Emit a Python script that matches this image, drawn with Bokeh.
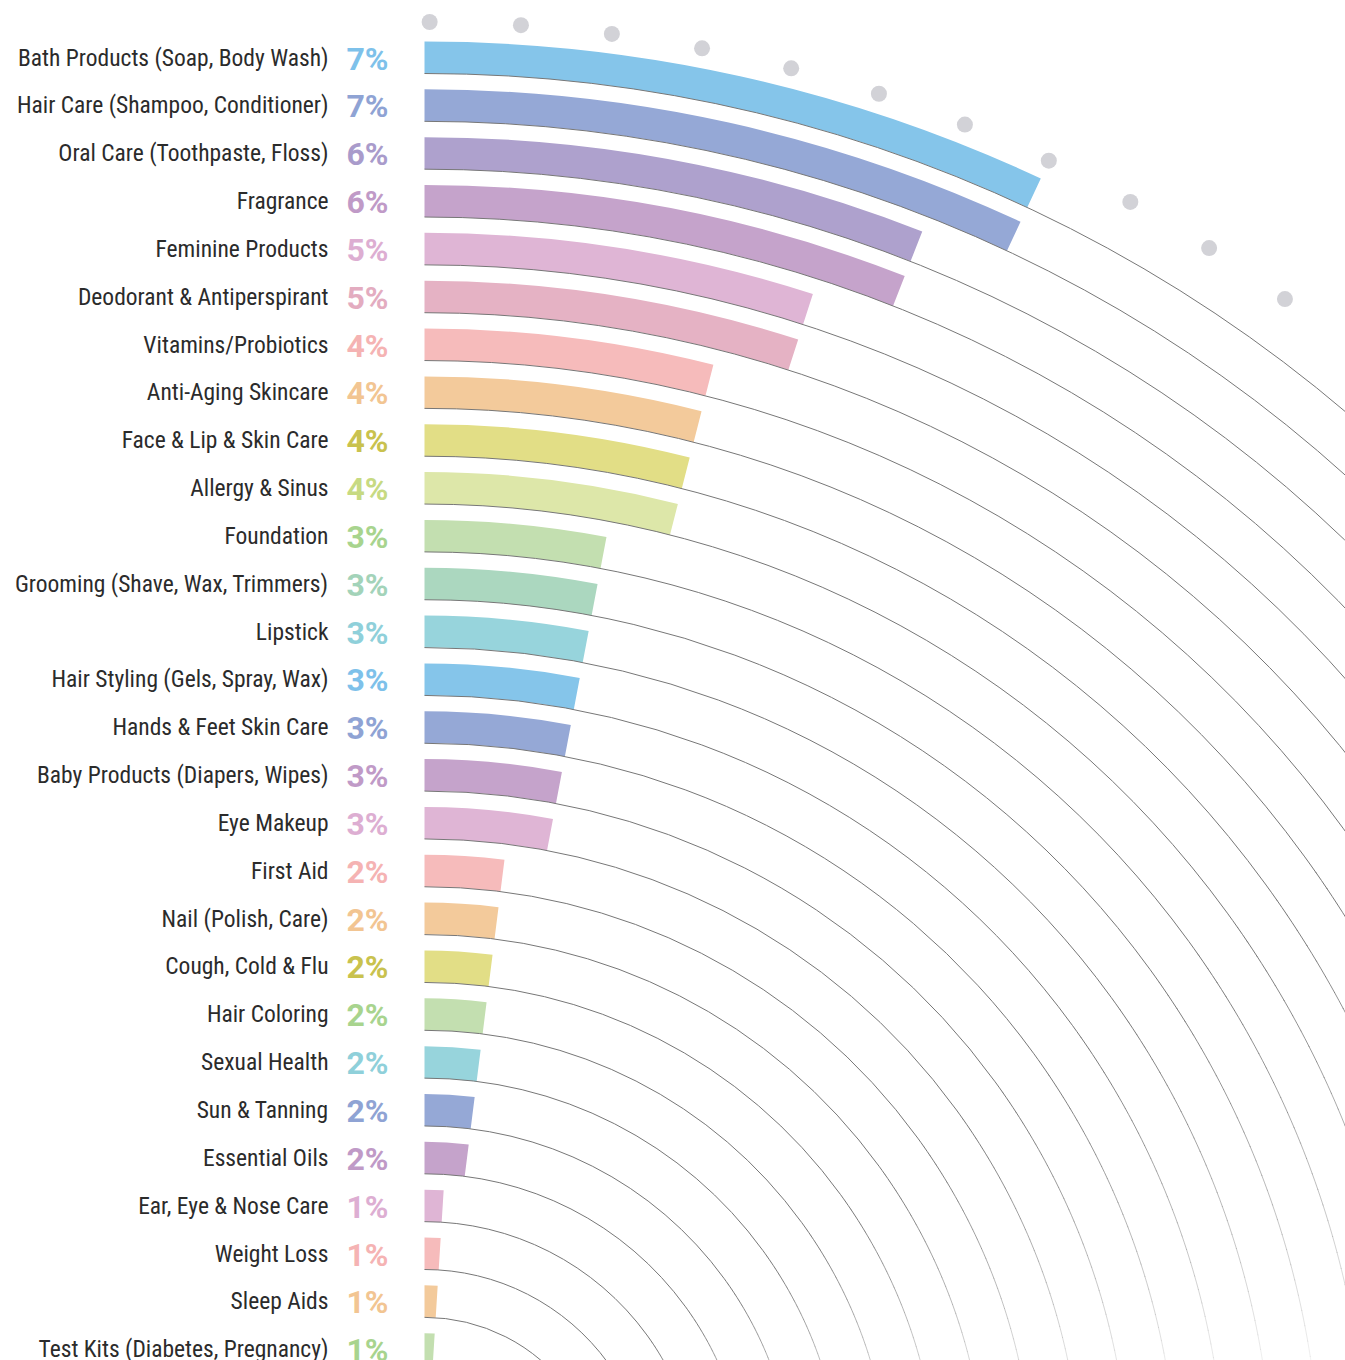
import numpy as np
from bokeh.plotting import figure
from bokeh.models import Range1d
from bokeh.core.properties import value
from bokeh.embed import file_html
from bokeh.resources import INLINE

categories = [
    "Bath Products (Soap, Body Wash)", "Hair Care (Shampoo, Conditioner)",
    "Oral Care (Toothpaste, Floss)", "Fragrance", "Feminine Products",
    "Deodorant & Antiperspirant", "Vitamins/Probiotics", "Anti-Aging Skincare",
    "Face & Lip & Skin Care", "Allergy & Sinus", "Foundation",
    "Grooming (Shave, Wax, Trimmers)", "Lipstick", "Hair Styling (Gels, Spray, Wax)",
    "Hands & Feet Skin Care", "Baby Products (Diapers, Wipes)", "Eye Makeup",
    "First Aid", "Nail (Polish, Care)", "Cough, Cold & Flu", "Hair Coloring",
    "Sexual Health", "Sun & Tanning", "Essential Oils", "Ear, Eye & Nose Care",
    "Weight Loss", "Sleep Aids", "Test Kits (Diabetes, Pregnancy)",
]
values = [7, 7, 6, 6, 5, 5, 4, 4, 4, 4, 3, 3, 3, 3, 3, 3, 3,
          2, 2, 2, 2, 2, 2, 2, 1, 1, 1, 1]
bar_colors = [
    "#85c5ea", "#95a8d6", "#aea1cd", "#c5a3cb", "#dfb5d5", "#e5b2c4", "#f6bbbb",
    "#f3ca9b", "#e2de86", "#dde7a9", "#c3dfb0", "#abd7bf", "#97d4dc", "#85c5ea",
    "#95a8d6", "#c5a3cb", "#dfb5d5", "#f6bbbb", "#f3ca9b", "#e2de86", "#c3dfb0",
    "#97d4dc", "#95a8d6", "#c5a3cb", "#dfb5d5", "#f6bbbb", "#f3ca9b", "#c3dfb0",
]
label_colors = [
    "#7ec1ea", "#8fa3d4", "#a99bcb", "#c09ac7", "#ddaed2", "#e3acc0", "#f5b3b3",
    "#f2c592", "#c9c24e", "#c7da82", "#a8d48e", "#a3d3b9", "#8fd0da", "#7ec1ea",
    "#8fa3d4", "#c09ac7", "#ddaed2", "#f5b3b3", "#f2c592", "#c9c24e", "#a8d48e",
    "#8fd0da", "#8fa3d4", "#c09ac7", "#ddaed2", "#f5b3b3", "#f2c592", "#a8d48e",
]
tick_values = list(range(0, 11))

W, H = 1345, 1360
p = figure(width=W, height=H, output_backend="svg", toolbar_location=None,
           x_range=Range1d(0, W), y_range=Range1d(0, H), min_border=0)
p.axis.visible = False
p.grid.visible = False
p.outline_line_color = None
p.background_fill_color = "white"

cx, cy = 424.0, H - 1496.0
deg_per_unit = 3.58
n = len(categories)
row_step = 47.84
r_outer = np.array([1455 - row_step * i for i in range(n)])
r_inner = r_outer - 32
r_mid = (r_outer + r_inner) / 2

# bars
ends = 90 - np.array(values) * deg_per_unit
p.annular_wedge(x=cx, y=cy, inner_radius=r_inner, outer_radius=r_outer,
                start_angle=np.radians(ends), end_angle=np.radians(90.0),
                fill_color=bar_colors, line_color=None)

# thin guide arcs along inner edge, fading near the end
xs, ys, rs, sa, ea, al = [], [], [], [], [], []
for i in range(n):
    xs.append(cx); ys.append(cy); rs.append(r_inner[i])
    sa.append(np.radians(90 - 54)); ea.append(np.radians(90)); al.append(1.0)
    for t in range(54, 90):
        mid = t + 0.5
        a = float(np.clip((84 - mid) / 28.0, 0, 1))
        xs.append(cx); ys.append(cy); rs.append(r_inner[i])
        sa.append(np.radians(90 - (t + 1.05))); ea.append(np.radians(90 - t)); al.append(a)
p.arc(x=xs, y=ys, radius=rs, start_angle=sa, end_angle=ea,
      line_color="#777777", line_width=1, line_alpha=al)

# tick dots on outer ring
tick_ang = np.radians(0.2 + np.array(tick_values) * 3.55)
R_dot = 1474.5
p.scatter(x=cx + R_dot * np.sin(tick_ang), y=cy + R_dot * np.cos(tick_ang),
          size=16, fill_color="#d2d2d7", line_color=None)

# labels
cond = value("Roboto Condensed, Liberation Sans Narrow, DejaVu Sans Condensed, sans-serif")
row_y = H - (1496 - r_mid)
p.text(x=[328] * n, y=row_y, text=categories, text_align="right",
       text_baseline="alphabetic", text_font=cond, text_font_size="23.5px",
       text_color="#2b2b2b")
pct = [f"{v}%" for v in values]
p.text(x=[388] * n, y=row_y - 1, text=pct, text_align="right",
       text_baseline="alphabetic", text_font=value("Roboto"), text_font_size="32px",
       text_font_style="bold", text_color=label_colors)

open("out.html", "w").write(file_html(p, INLINE))
